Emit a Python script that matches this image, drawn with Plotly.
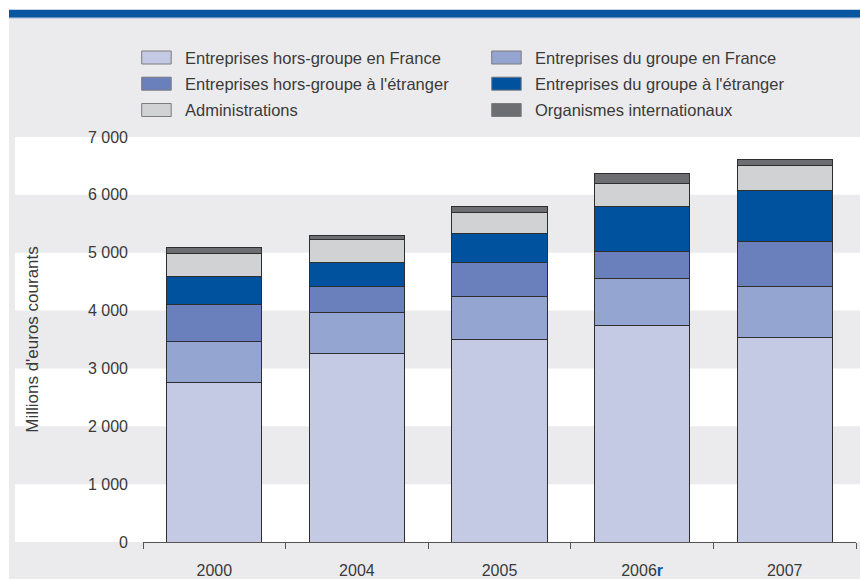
import plotly.graph_objects as go

# ---- data ----
years = ["2000", "2004", "2005", "2006r", "2007"]
year_labels = ["2000", "2004", "2005", "2006<b><span style='color:#0a56a3'>r</span></b>", "2007"]

series_names = [
    "Entreprises hors-groupe en France",
    "Entreprises du groupe en France",
    "Entreprises hors-groupe à l'étranger",
    "Entreprises du groupe à l'étranger",
    "Administrations",
    "Organismes internationaux",
]
hors_groupe_france = [2753, 3253, 3494, 3741, 3529]
groupe_france = [707, 707, 747, 816, 891]
hors_groupe_etranger = [638, 460, 598, 460, 775]
groupe_etranger = [493, 419, 500, 782, 885]
administrations = [387, 391, 351, 391, 426]
organismes = [113, 69, 115, 178, 103]

series_values = [hors_groupe_france, groupe_france, hors_groupe_etranger,
                 groupe_etranger, administrations, organismes]
colors = ["#c5cae4", "#95a5d1", "#6980bd", "#00529f", "#d1d2d4", "#6d6e71"]

y_ticks = [0, 1000, 2000, 3000, 4000, 5000, 6000, 7000]

# ---- layout geometry ----
W, H = 860, 579
ML, MR, MT, MB = 143, 4, 137, 37
PW = W - ML - MR
PH = H - MT - MB


def px_x(x):
    return (x - ML) / PW


def px_y(y):
    return (H - MB - y) / PH


FONT = "Liberation Sans, Arial, sans-serif"
TXT = "#3a3a3a"

fig = go.Figure()
for name, vals, col in zip(series_names, series_values, colors):
    fig.add_trace(go.Bar(
        name=name, x=years, y=vals,
        marker=dict(color=col, line=dict(color="#2e2e2e", width=1)),
        width=0.667, showlegend=False,
    ))

shapes = []
# grey panel
shapes.append(dict(type="rect", xref="paper", yref="paper", layer="below",
                   x0=px_x(9), x1=px_x(862), y0=px_y(18.5), y1=px_y(582),
                   fillcolor="#ebebed", line=dict(width=0)))
# top blue band
shapes.append(dict(type="rect", xref="paper", yref="paper", layer="below",
                   x0=px_x(9), x1=px_x(862), y0=px_y(9.7), y1=px_y(17.7),
                   fillcolor="#0a55a0", line=dict(width=0)))
shapes.append(dict(type="rect", xref="paper", yref="paper", layer="below",
                   x0=px_x(9), x1=px_x(862), y0=px_y(17.7), y1=px_y(18.7),
                   fillcolor="#b9c8e0", line=dict(width=0)))
# white horizontal bands
for lo in y_ticks[:-1:2]:
    shapes.append(dict(type="rect", xref="paper", yref="y", layer="below",
                       x0=px_x(15), x1=px_x(862), y0=lo, y1=lo + 1000,
                       fillcolor="#ffffff", line=dict(width=0)))

# legend (two columns, three rows)
annotations = []
col_x = [141.7, 491.7]
row_y = [57.5, 83.7, 110]
for i, (name, col) in enumerate(zip(series_names, colors)):
    cx = col_x[i % 2]
    cy = row_y[i // 2]
    shapes.append(dict(type="rect", xref="paper", yref="paper",
                       x0=px_x(cx), x1=px_x(cx + 29.5),
                       y0=px_y(cy - 6.5), y1=px_y(cy + 6.5),
                       fillcolor=col, line=dict(color="#7c7c7e", width=1)))
    annotations.append(dict(xref="paper", yref="paper", x=px_x(cx + 41.5), y=px_y(cy),
                            xanchor="left", yanchor="middle", showarrow=False,
                            text=name, font=dict(family=FONT, size=16.5, color=TXT)))

fig.update_layout(
    width=W, height=H,
    margin=dict(l=ML, r=MR, t=MT, b=MB, autoexpand=False),
    barmode="stack",
    paper_bgcolor="#ffffff",
    plot_bgcolor="rgba(0,0,0,0)",
    separators=", ",
    shapes=shapes,
    annotations=annotations,
    font=dict(family=FONT, size=16, color=TXT),
    xaxis=dict(
        type="category", tickvals=years, ticktext=year_labels,
        showline=True, linecolor="#555555", linewidth=1,
        ticks="outside", tickson="boundaries", ticklen=6, tickcolor="#555555",
        showgrid=False, zeroline=False, ticklabelstandoff=14,
        tickfont=dict(family=FONT, size=16, color=TXT),
    ),
    yaxis=dict(
        range=[0, 7000], tickvals=y_ticks, tickformat=",d",
        showgrid=False, zeroline=False, showline=False, ticks="",
        ticklabelstandoff=14,
        tickfont=dict(family=FONT, size=16, color=TXT),
        title=dict(text="Millions d'euros courants", standoff=45,
                   font=dict(family=FONT, size=17, color=TXT)),
    ),
)

fig.write_html("out.html",
               config={"displayModeBar": False},
               post_script="document.body.style.margin='0';document.body.style.overflow='hidden';")
